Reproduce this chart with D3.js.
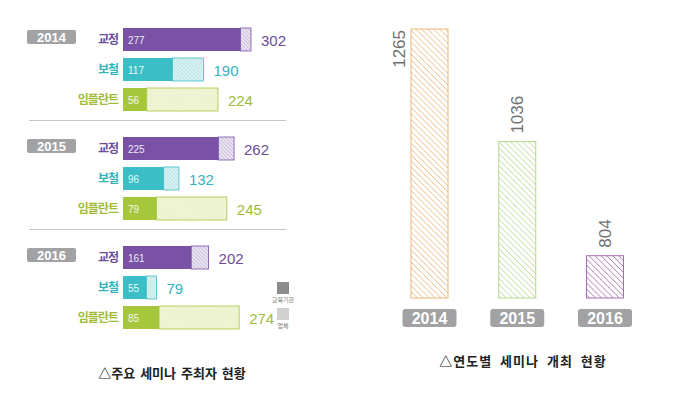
<!DOCTYPE html>
<html>
<head>
<meta charset="utf-8">
<script src="https://cdn.jsdelivr.net/npm/d3@7"></script>
<style>
  body { margin: 0; background: #fff; }
  svg { display: block; font-family: "Noto Sans CJK KR", "Noto Sans", sans-serif; }
</style>
</head>
<body>
<svg id="chart" width="680" height="396"></svg>
<script>
// 왼쪽: 주최자별 (교육기관 / 합계)
const years = ["2014", "2015", "2016"];
const hosts = ["교정", "보철", "임플란트"];
const eduValues = [[277, 117, 56], [225, 96, 79], [161, 55, 85]];
const totalValues = [[302, 190, 224], [262, 132, 245], [202, 79, 274]];
const legendLabels = ["교육기관", "업체"];

// 오른쪽: 연도별 세미나 개최 수
const seminarCounts = [1265, 1036, 804];

const captions = ["△주요 세미나 주최자 현황", "△연도별 세미나 개최 현황"];

const hostColors = { "교정": "#7952a5", "보철": "#3cbec6", "임플란트": "#a6c73c" };
const hostLabelColors = { "교정": "#6b4d98", "보철": "#36b3bb", "임플란트": "#9fbd3a" };
const hatchFill = { "교정": "#ece6f3", "보철": "#dcf2f3", "임플란트": "#f3f7de" };
const hatchLine = { "교정": "#9c86c2", "보철": "#86d2d7", "임플란트": "#cddd92" };
const yearColors = ["#ebb679", "#b5d78c", "#a66cb1"];

const svg = d3.select("#chart");
const defs = svg.append("defs");

// 빗금 패턴
function addHatch(id, bg, line, gap, width) {
  const p = defs.append("pattern")
    .attr("id", id)
    .attr("patternUnits", "userSpaceOnUse")
    .attr("width", gap)
    .attr("height", gap)
    .attr("patternTransform", "rotate(-45)");
  p.append("rect").attr("width", gap).attr("height", gap).attr("fill", bg);
  p.append("line")
    .attr("x1", 0).attr("y1", 0).attr("x2", 0).attr("y2", gap)
    .attr("stroke", line).attr("stroke-width", width);
}
hosts.forEach((h, i) => addHatch("hatch-host-" + i, hatchFill[h], hatchLine[h], 2.6, 0.8));
yearColors.forEach((c, i) => addHatch("hatch-year-" + i, "#fff", c, 4.2, 1.3));
addHatch("hatch-legend", "#dadada", "#a4a4a4", 2.4, 0.8);

// ---------- 왼쪽 패널 ----------
const left = svg.append("g");
const x = d3.scaleLinear().domain([0, 302]).range([123, 251]);
const groupY = d3.scalePoint().domain(years).range([28, 246]);
const rowY = d3.scalePoint().domain(hosts).range([0, 60]);
const barH = 23;

years.forEach((year, yi) => {
  const g = left.append("g").attr("transform", `translate(0,${groupY(year)})`);

  g.append("rect")
    .attr("x", 27).attr("y", 2).attr("width", 49).attr("height", 14).attr("rx", 2)
    .attr("fill", "#a2a2a4");
  g.append("text")
    .attr("x", 51.5).attr("y", 13.5)
    .attr("text-anchor", "middle")
    .attr("fill", "#fff").attr("font-size", 13).attr("font-weight", "bold")
    .attr("font-family", "Liberation Sans, Arial, sans-serif")
    .text(year);

  hosts.forEach((host, hi) => {
    const y0 = rowY(host);
    const edu = eduValues[yi][hi];
    const total = totalValues[yi][hi];

    g.append("text")
      .attr("x", 118).attr("y", y0 + barH / 2 + 4)
      .attr("text-anchor", "end")
      .attr("fill", hostLabelColors[host])
      .attr("font-size", 12).attr("font-weight", "bold")
      .attr("letter-spacing", -1)
      .text(host);

    // 업체 (빗금) 부분
    g.append("rect")
      .attr("x", x(edu)).attr("y", y0)
      .attr("width", x(total) - x(edu)).attr("height", barH)
      .attr("fill", `url(#hatch-host-${hi})`)
      .attr("stroke", hostColors[host]).attr("stroke-width", 0.8);
    // 교육기관 부분
    g.append("rect")
      .attr("x", x(0)).attr("y", y0)
      .attr("width", x(edu) - x(0)).attr("height", barH)
      .attr("fill", hostColors[host]);

    g.append("text")
      .attr("x", x(0) + 5).attr("y", y0 + barH / 2 + 4)
      .attr("fill", "#fff").attr("fill-opacity", 0.9)
      .attr("font-size", 10)
      .attr("font-family", "Liberation Sans, Arial, sans-serif")
      .text(edu);

    g.append("text")
      .attr("x", x(total) + 10).attr("y", y0 + barH / 2 + 6)
      .attr("fill", hostLabelColors[host])
      .attr("font-size", 15)
      .attr("font-family", "Liberation Sans, Arial, sans-serif")
      .text(total);
  });

  if (yi < years.length - 1) {
    g.append("line")
      .attr("x1", 29).attr("x2", 286)
      .attr("y1", 92.5).attr("y2", 92.5)
      .attr("stroke", "#c4c4c4").attr("stroke-width", 1);
  }
});

// 범례
const legend = left.append("g").attr("transform", "translate(277,282)");
legendLabels.forEach((label, i) => {
  legend.append("rect")
    .attr("x", 0).attr("y", i * 26)
    .attr("width", 12).attr("height", 12)
    .attr("fill", i === 0 ? "#8c8c8e" : "url(#hatch-legend)");
  legend.append("text")
    .attr("x", 6).attr("y", i * 26 + 19.5)
    .attr("text-anchor", "middle")
    .attr("fill", "#777").attr("font-size", 6)
    .text(label);
});

left.append("text")
  .attr("x", 172).attr("y", 378)
  .attr("text-anchor", "middle")
  .attr("fill", "#222").attr("font-size", 13).attr("font-weight", "bold")
  .attr("word-spacing", 2)
  .text(captions[0]);

// ---------- 오른쪽 패널 ----------
const right = svg.append("g");
const bx = d3.scalePoint().domain(years).range([429.5, 605]);
const by = d3.scaleLinear().domain([718, 1265]).range([298, 29]);
const bw = 37;

years.forEach((year, i) => {
  const v = seminarCounts[i];
  const cx = bx(year);
  right.append("rect")
    .attr("x", cx - bw / 2).attr("y", by(v))
    .attr("width", bw).attr("height", by.range()[0] - by(v))
    .attr("fill", `url(#hatch-year-${i})`)
    .attr("stroke", yearColors[i]).attr("stroke-width", 1);

  // 값 라벨 (세로)
  const top = by(v);
  const fitsAbove = top > 45;
  const lx = fitsAbove ? cx + 6 : cx - bw / 2 - 6;
  const ly = fitsAbove ? top - 8 : top + 1;
  right.append("text")
    .attr("transform", `translate(${lx},${ly}) rotate(-90)`)
    .attr("text-anchor", fitsAbove ? "start" : "end")
    .attr("fill", "#707070")
    .attr("font-size", 17)
    .attr("font-family", "Liberation Sans, Arial, sans-serif")
    .text(v);

  right.append("rect")
    .attr("x", cx - 27).attr("y", 309)
    .attr("width", 54).attr("height", 18).attr("rx", 3)
    .attr("fill", "#a2a2a4");
  right.append("text")
    .attr("x", cx).attr("y", 324)
    .attr("text-anchor", "middle")
    .attr("fill", "#fff").attr("font-size", 16).attr("font-weight", "bold")
    .attr("font-family", "Liberation Sans, Arial, sans-serif")
    .text(year);
});

right.append("text")
  .attr("x", 523).attr("y", 366)
  .attr("text-anchor", "middle")
  .attr("fill", "#222").attr("font-size", 13).attr("font-weight", "bold")
  .attr("letter-spacing", 1).attr("word-spacing", 4)
  .text(captions[1]);
</script>
</body>
</html>
